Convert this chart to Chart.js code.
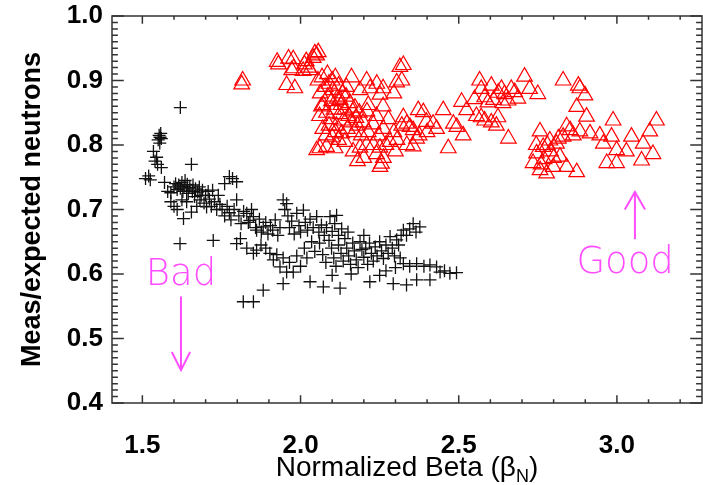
<!DOCTYPE html>
<html lang="en">
<head>
<meta charset="UTF-8">
<title>Meas/expected neutrons vs Normalized Beta</title>
<script src="https://cdn.jsdelivr.net/npm/chart.js"></script>
<style>
  html, body { margin: 0; padding: 0; background: #fff; }
</style>
</head>
<body>
<canvas id="betaChart" width="703" height="485"></canvas>
<script>
// tick labels
const xTickValues = [1.5, 2.0, 2.5, 3.0];
const yTickValues = [0.4, 0.5, 0.6, 0.7, 0.8, 0.9, 1.0];

// black crosses: [beta_N, meas/expected]
const blackShots = [
  [1.510,0.748],[1.520,0.752],[1.525,0.746],[1.535,0.790],[1.540,0.775],[1.545,0.781],[1.548,0.770],
  [1.550,0.808],[1.553,0.815],[1.556,0.812],[1.558,0.818],[1.560,0.810],[1.555,0.803],[1.560,0.765],
  [1.570,0.742],[1.580,0.728],[1.590,0.726],[1.620,0.858],
  [1.600,0.735],[1.605,0.740],[1.610,0.731],[1.615,0.738],[1.620,0.733],[1.625,0.742],[1.628,0.728],
  [1.632,0.736],[1.635,0.745],[1.640,0.730],[1.642,0.739],[1.645,0.725],[1.650,0.734],[1.655,0.770],
  [1.658,0.728],[1.660,0.738],[1.665,0.720],[1.668,0.732],[1.672,0.705],[1.675,0.727],[1.680,0.735],
  [1.682,0.715],[1.686,0.722],[1.690,0.730],[1.695,0.710],[1.700,0.722],[1.703,0.704],[1.708,0.728],
  [1.712,0.716],[1.718,0.705],[1.722,0.730],[1.728,0.712],[1.735,0.700],[1.740,0.722],[1.745,0.708],
  [1.600,0.705],[1.610,0.700],[1.630,0.686],[1.640,0.712],[1.655,0.696],[1.625,0.715],[1.590,0.712],
  [1.775,0.751],[1.785,0.748],[1.798,0.743],[1.760,0.740],
  [1.752,0.700],[1.760,0.690],[1.768,0.705],[1.775,0.695],[1.780,0.684],[1.790,0.700],[1.798,0.715],
  [1.805,0.690],[1.812,0.678],[1.820,0.697],[1.830,0.694],[1.835,0.680],[1.840,0.683],[1.845,0.700],
  [1.851,0.689],[1.858,0.672],[1.861,0.668],[1.870,0.685],[1.876,0.665],[1.882,0.673],[1.890,0.680],
  [1.897,0.662],[1.905,0.675],[1.912,0.668],[1.920,0.684],[1.928,0.660],[1.935,0.672],[1.945,0.715],
  [1.950,0.700],[1.956,0.709],[1.960,0.690],[1.965,0.672],[1.972,0.682],[1.980,0.662],[1.988,0.694],
  [1.995,0.675],[2.000,0.665],[2.009,0.699],[2.015,0.680],[2.022,0.668],[2.030,0.685],[2.040,0.672],
  [2.051,0.689],[2.058,0.665],[2.066,0.676],[2.075,0.660],[2.082,0.672],[2.093,0.689],[2.100,0.666],
  [2.108,0.678],[2.114,0.691],[2.120,0.660],[2.130,0.670],
  [1.724,0.652],[1.619,0.647],[1.798,0.647],[1.810,0.655],[1.830,0.640],[1.851,0.632],[1.861,0.637],
  [1.875,0.645],[1.890,0.640],[1.903,0.632],[1.914,0.622],[1.925,0.630],[1.935,0.611],[1.945,0.625],
  [1.956,0.603],[1.965,0.618],[1.977,0.603],[1.988,0.628],[2.000,0.612],[2.012,0.640],[2.020,0.625],
  [2.035,0.650],[2.045,0.635],[1.945,0.585],[2.030,0.588],[2.072,0.580],[2.125,0.578],[1.882,0.575],
  [1.819,0.557],[1.851,0.557],
  [2.060,0.648],[2.070,0.630],[2.080,0.618],[2.090,0.652],[2.098,0.640],[2.105,0.625],[2.112,0.612],
  [2.120,0.645],[2.128,0.632],[2.135,0.620],[2.140,0.655],[2.146,0.640],[2.152,0.628],[2.158,0.615],
  [2.165,0.648],[2.170,0.636],[2.176,0.622],[2.182,0.610],[2.188,0.650],[2.194,0.638],[2.200,0.626],
  [2.206,0.640],[2.212,0.615],[2.218,0.648],[2.224,0.632],[2.230,0.620],[2.236,0.642],[2.242,0.628],
  [2.250,0.650],[2.256,0.636],[2.262,0.624],[2.270,0.645],[2.277,0.632],[2.283,0.658],[2.290,0.640],
  [2.297,0.628],[2.304,0.653],[2.310,0.645],[2.318,0.660],[2.325,0.668],[2.335,0.660],[2.345,0.670],
  [2.356,0.678],[2.365,0.665],[2.377,0.673],[2.150,0.665],[2.200,0.660],[2.160,0.600],[2.100,0.598],
  [2.219,0.588],[2.293,0.585],[2.335,0.583],[2.367,0.591],[2.409,0.591],[2.441,0.603],[2.472,0.601],
  [2.493,0.602],[2.325,0.616],[2.345,0.612],[2.367,0.616],[2.390,0.612],[2.409,0.614],[2.430,0.611],
  [2.455,0.605],[2.315,0.625],[2.300,0.610],[2.270,0.605],[2.250,0.598]
];

// red triangles: [beta_N, meas/expected]
const redShots = [
  [1.817,0.900],[1.814,0.894],[1.926,0.929],[1.930,0.925],[1.962,0.934],[1.977,0.933],[1.972,0.916],
  [1.978,0.919],[1.956,0.893],[1.982,0.888],[2.012,0.925],[2.018,0.930],[2.025,0.920],[2.008,0.915],
  [2.030,0.916],[2.045,0.942],[2.056,0.944],[2.051,0.939],[2.040,0.935],
  [2.055,0.900],[2.062,0.880],[2.068,0.905],[2.072,0.862],[2.078,0.890],[2.082,0.850],[2.086,0.875],
  [2.090,0.895],[2.094,0.840],[2.098,0.868],[2.102,0.885],[2.106,0.855],[2.110,0.905],[2.113,0.830],
  [2.116,0.872],[2.120,0.892],[2.124,0.848],[2.128,0.862],[2.132,0.880],[2.136,0.838],[2.140,0.855],
  [2.144,0.875],[2.148,0.825],[2.152,0.845],[2.156,0.865],[2.160,0.835],[2.165,0.852],[2.170,0.820],
  [2.175,0.842],[2.180,0.830],[2.186,0.850],[2.192,0.815],[2.198,0.835],[2.060,0.845],[2.070,0.825],
  [2.080,0.815],[2.090,0.830],[2.100,0.812],[2.110,0.820],[2.120,0.808],[2.130,0.818],[2.140,0.805],
  [2.061,0.795],[2.051,0.792],[2.082,0.797],[2.109,0.795],[2.066,0.860],[2.085,0.910],[2.100,0.900],
  [2.125,0.870],[2.145,0.890],
  [2.161,0.905],[2.209,0.900],[2.241,0.895],[2.261,0.888],[2.188,0.885],[2.220,0.888],[2.251,0.878],
  [2.304,0.897],[2.314,0.921],[2.325,0.924],[2.320,0.900],[2.295,0.880],[2.261,0.860],[2.214,0.862],
  [2.172,0.858],[2.210,0.852],[2.240,0.845],
  [2.166,0.790],[2.188,0.796],[2.209,0.800],[2.230,0.800],[2.251,0.796],[2.256,0.771],[2.251,0.766],
  [2.262,0.780],[2.270,0.800],[2.283,0.805],[2.214,0.820],[2.230,0.832],[2.246,0.815],[2.262,0.825],
  [2.278,0.840],[2.295,0.820],[2.305,0.808],[2.320,0.830],[2.325,0.843],[2.336,0.833],[2.346,0.828],
  [2.356,0.823],[2.367,0.810],[2.336,0.800],[2.356,0.798],[2.375,0.815],[2.180,0.775],[2.200,0.780],
  [2.240,0.786],[2.300,0.790],
  [2.372,0.854],[2.388,0.851],[2.398,0.836],[2.419,0.833],[2.451,0.854],[2.483,0.833],[2.494,0.828],
  [2.514,0.815],[2.467,0.795],[2.509,0.867],[2.525,0.854],[2.400,0.820],[2.430,0.825],
  [2.566,0.900],[2.571,0.887],[2.603,0.892],[2.550,0.871],[2.582,0.874],[2.592,0.866],[2.625,0.881],
  [2.635,0.887],[2.645,0.879],[2.656,0.869],[2.666,0.887],[2.677,0.882],[2.687,0.872],[2.708,0.906],
  [2.724,0.887],[2.750,0.879],[2.610,0.870],[2.640,0.865],
  [2.556,0.845],[2.571,0.843],[2.582,0.838],[2.603,0.835],[2.624,0.843],[2.619,0.830],[2.657,0.810],
  [2.757,0.821],[2.841,0.829],[2.852,0.823],[2.883,0.821],[2.746,0.787],[2.735,0.772],[2.757,0.761],
  [2.778,0.756],[2.799,0.766],[2.820,0.782],[2.841,0.766],[2.873,0.758],[2.767,0.797],[2.788,0.807],
  [2.809,0.802],[2.830,0.813],[2.862,0.815],[2.745,0.800],[2.770,0.778],[2.790,0.790],[2.800,0.780],
  [2.815,0.810],[2.760,0.770],[2.780,0.800],
  [2.830,0.900],[2.878,0.892],[2.883,0.888],[2.899,0.877],[2.873,0.859],[2.904,0.844],
  [2.915,0.818],[2.946,0.815],[2.957,0.802],[2.988,0.838],[2.983,0.813],[2.999,0.792],[2.968,0.772],
  [2.999,0.772],[3.030,0.790],[3.046,0.813],[3.083,0.802],[3.078,0.776],[3.104,0.821],[3.125,0.838],
  [3.114,0.786]
];

// annotations (data coordinates)
const badNote = { text: 'Bad', x: 1.622, y: 0.583 };
const goodNote = { text: 'Good', x: 3.026, y: 0.601 };
const badArrow = [[1.622, 0.565], [1.622, 0.451]];
const badHead = [[1.593, 0.479], [1.622, 0.451], [1.651, 0.479]];
const goodArrow = [[3.057, 0.654], [3.057, 0.727]];
const goodHead = [[3.025, 0.700], [3.057, 0.727], [3.089, 0.700]];

const MAGENTA = '#ff4cff';
const toXY = arr => arr.map(([x, y]) => ({ x, y }));

// fixed box sizes, no automatic edge padding for labels
const fixBox = size => s => {
  if (s.isHorizontal()) s.height = size; else s.width = size;
  s.paddingTop = s.paddingBottom = s.paddingLeft = s.paddingRight = 0;
};

// IDL style box with inward ticks on all four sides
const idlFrame = {
  id: 'idlFrame',
  afterDraw(chart) {
    const { ctx, chartArea: a, scales: { x, y } } = chart;
    const xLen = 0.02 * (a.bottom - a.top);
    const yLen = 0.02 * (a.right - a.left);
    ctx.save();
    ctx.strokeStyle = '#333';
    ctx.lineWidth = 1.5;
    ctx.strokeRect(a.left, a.top, a.right - a.left, a.bottom - a.top);
    ctx.beginPath();
    for (let i = 14; i <= 33; i++) {
      const px = x.getPixelForValue(i / 10);
      if (px < a.left + 1 || px > a.right - 1) continue;
      const len = i % 5 === 0 ? xLen : xLen / 2;
      ctx.moveTo(px, a.bottom); ctx.lineTo(px, a.bottom - len);
      ctx.moveTo(px, a.top); ctx.lineTo(px, a.top + len);
    }
    for (let i = 40; i <= 100; i++) {
      const py = y.getPixelForValue(i / 100);
      const len = i % 10 === 0 ? yLen : yLen / 2;
      ctx.moveTo(a.left, py); ctx.lineTo(a.left + len, py);
      ctx.moveTo(a.right, py); ctx.lineTo(a.right - len, py);
    }
    ctx.stroke();
    ctx.restore();
  }
};

// x title with subscript N, and the Bad/Good notes
const textLayer = {
  id: 'textLayer',
  afterDraw(chart) {
    const { ctx, chartArea: a, scales: { x, y } } = chart;
    ctx.save();
    const big = '28px "Liberation Sans", Arial, sans-serif';
    const small = '18px "Liberation Sans", Arial, sans-serif';
    const p1 = 'Normalized Beta (\u03b2', p2 = 'N', p3 = ')';
    ctx.font = big;
    const w1 = ctx.measureText(p1).width, w3 = ctx.measureText(p3).width;
    ctx.font = small;
    const w2 = ctx.measureText(p2).width;
    let tx = (a.left + a.right) / 2 - (w1 + w2 + w3) / 2;
    const base = 476;
    ctx.fillStyle = '#000';
    ctx.textBaseline = 'alphabetic';
    ctx.textAlign = 'left';
    ctx.font = big; ctx.fillText(p1, tx, base); tx += w1;
    ctx.font = small; ctx.fillText(p2, tx, base + 6); tx += w2;
    ctx.font = big; ctx.fillText(p3, tx, base);

    ctx.fillStyle = MAGENTA;
    ctx.textAlign = 'center';
    ctx.font = '200 37px "DejaVu Sans", sans-serif';
    [badNote, goodNote].forEach(n => {
      ctx.fillText(n.text, x.getPixelForValue(n.x), y.getPixelForValue(n.y));
    });
    ctx.restore();
  }
};

const arrowStyle = {
  showLine: true, borderColor: MAGENTA, borderWidth: 2, pointRadius: 0, fill: false
};

new Chart(document.getElementById('betaChart'), {
  type: 'scatter',
  data: {
    datasets: [
      {
        label: 'black', data: toXY(blackShots),
        pointStyle: 'cross', pointRadius: 6.5, borderColor: '#111', borderWidth: 1.3
      },
      {
        label: 'red', data: toXY(redShots),
        pointStyle: 'triangle', pointRadius: 9, borderColor: '#ff0000',
        backgroundColor: 'rgba(0,0,0,0)', borderWidth: 1.2
      },
      Object.assign({ label: 'badArrow', data: toXY(badArrow) }, arrowStyle),
      Object.assign({ label: 'badHead', data: toXY(badHead) }, arrowStyle),
      Object.assign({ label: 'goodArrow', data: toXY(goodArrow) }, arrowStyle),
      Object.assign({ label: 'goodHead', data: toXY(goodHead) }, arrowStyle)
    ]
  },
  options: {
    responsive: false,
    animation: false,
    events: [],
    layout: { autoPadding: false, padding: { top: 16, right: 1, left: 0, bottom: 0 } },
    plugins: { legend: { display: false }, tooltip: { enabled: false } },
    scales: {
      x: {
        type: 'linear', min: 1.404, max: 3.269,
        afterBuildTicks: s => { s.ticks = xTickValues.map(v => ({ value: v })); },
        afterFit: fixBox(82),
        grid: { display: false, drawTicks: false },
        border: { display: false },
        ticks: {
          padding: 27, color: '#000',
          font: { family: '"Liberation Sans", Arial, sans-serif', size: 26, weight: 'bold' },
          callback: v => v.toFixed(1)
        }
      },
      y: {
        type: 'linear', min: 0.4, max: 1.0,
        afterBuildTicks: s => { s.ticks = yTickValues.map(v => ({ value: v })); },
        afterFit: fixBox(112),
        grid: { display: false, drawTicks: false },
        border: { display: false },
        ticks: {
          padding: 9, color: '#000',
          font: { family: '"Liberation Sans", Arial, sans-serif', size: 26, weight: 'bold' },
          callback: v => v.toFixed(1)
        },
        title: {
          display: true, text: 'Meas/expected neutrons', color: '#000',
          padding: { top: 16, bottom: 0 },
          font: { family: '"Liberation Sans", Arial, sans-serif', size: 27, weight: 'bold' }
        }
      }
    }
  },
  plugins: [idlFrame, textLayer]
});
</script>
</body>
</html>
